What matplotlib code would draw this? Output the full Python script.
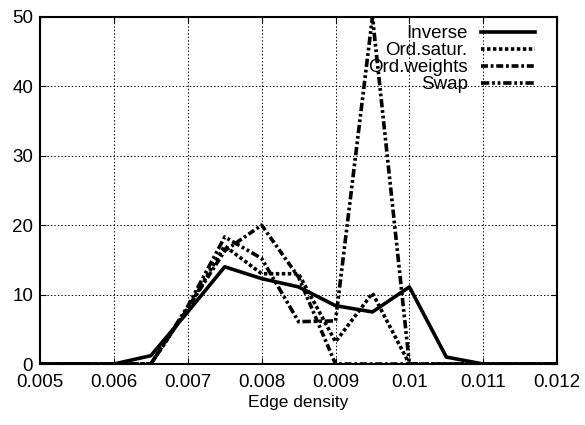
import matplotlib
matplotlib.use("Agg")
import matplotlib.pyplot as plt

plt.rcParams['font.family'] = ['Liberation Sans', 'DejaVu Sans']
plt.rcParams['lines.scale_dashes'] = False

x = [0.005, 0.0055, 0.006, 0.0065, 0.007, 0.0075, 0.008, 0.0085, 0.009,
     0.0095, 0.01, 0.0105, 0.011, 0.0115, 0.012]
inverse = [0, 0, 0, 1.2, 7.5, 14, 12.3, 11.1, 8.4, 7.5, 11.1, 1, 0, 0, 0]
ord_satur = [0, 0, 0, 0, 8, 17, 13, 13, 3.2, 10.2, 0, 0, 0, 0, 0]
ord_weights = [0, 0, 0, 0, 8, 16.3, 20, 12.5, 0, 0, 0, 0, 0, 0, 0]
swap = [0, 0, 0, 0, 8.3, 18.3, 15.2, 6.1, 6.2, 50, 0, 0, 0, 0, 0]

labels = ["Inverse", "Ord.satur.", "Ord.weights", "Swap"]
xticks = [0.005, 0.006, 0.007, 0.008, 0.009, 0.01, 0.011, 0.012]
xticklabels = ["0.005", "0.006", "0.007", "0.008", "0.009", "0.01", "0.011", "0.012"]
yticks = [0, 10, 20, 30, 40, 50]

fig = plt.figure(figsize=(5.85, 4.25), dpi=100)
ax = fig.add_axes([0.0684, 0.1435, 0.884, 0.817])

lw = 2.6
ax.plot(x, inverse, color='black', lw=lw, linestyle='-', label=labels[0])
ax.plot(x, ord_satur, color='black', lw=lw, linestyle=(0, (2.5, 1.8)), label=labels[1])
ax.plot(x, ord_weights, color='black', lw=lw, linestyle=(0, (5, 2, 2, 2)), label=labels[2])
ax.plot(x, swap, color='black', lw=lw, linestyle=(0, (6, 2, 2, 2, 2, 2)), label=labels[3])

ax.set_xlim(0.005, 0.012)
ax.set_ylim(0, 50)
ax.set_xticks(xticks)
ax.set_xticklabels(xticklabels)
ax.set_yticks(yticks)
ax.grid(True, color='black', linestyle=(0, (1, 1.5)), linewidth=0.7)
ax.tick_params(direction='in', top=True, right=True, labelsize=13.5, length=4)
ax.tick_params(axis='x', pad=7)
ax.tick_params(axis='y', pad=5)
for s in ax.spines.values():
    s.set_linewidth(1.5)
ax.set_xlabel("Edge density", fontsize=12.5, labelpad=3)

leg = ax.legend(loc='upper right', frameon=False, markerfirst=False, fontsize=13.5,
                handlelength=2.9, handletextpad=0.7, labelspacing=0.0,
                borderaxespad=0.0, bbox_to_anchor=(0.972, 0.998))
fig.savefig("out.png", dpi=100)
